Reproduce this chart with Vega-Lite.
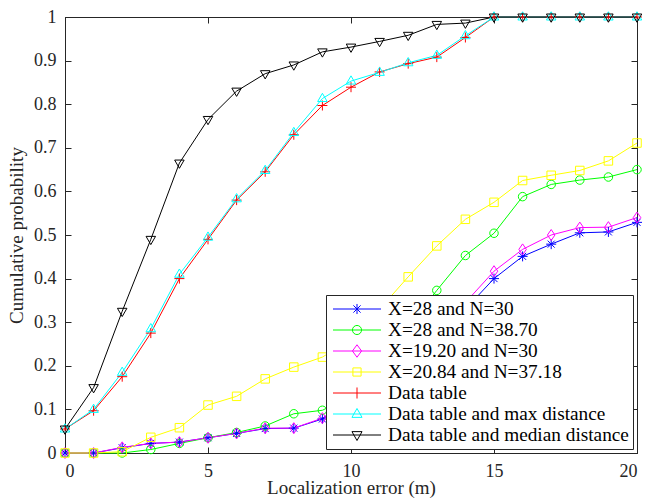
{
  "$schema": "https://vega.github.io/schema/vega-lite/v6.json",
  "width": 572,
  "height": 436,
  "autosize": "none",
  "padding": {"left": 65, "top": 17, "right": 13, "bottom": 49},
  "background": "white",
  "config": {
    "font": "Liberation Serif",
    "view": {"stroke": "#262626", "strokeWidth": 1},
    "axis": {
      "grid": false,
      "domainColor": "#262626",
      "tickColor": "#262626",
      "labelColor": "#262626",
      "titleColor": "#262626",
      "labelFont": "Liberation Serif",
      "titleFont": "Liberation Serif",
      "labelFontSize": 18,
      "titleFontSize": 19,
      "titleFontWeight": "normal",
      "tickSize": -6,
      "tickWidth": 1,
      "domainWidth": 1,
      "labelPadding": 15
    },
    "legend": {
      "orient": "bottom-right",
      "offset": 4,
      "strokeColor": "#262626",
      "fillColor": "white",
      "padding": 3.5,
      "symbolSize": 2304,
      "symbolStrokeWidth": 1,
      "symbolOpacity": 1,
      "labelFont": "Liberation Serif",
      "labelFontSize": 19.3,
      "labelColor": "black",
      "labelLimit": 400,
      "clipHeight": 21,
      "rowPadding": 0,
      "symbolOffset": 3,
      "labelOffset": 6.5,
      "cornerRadius": 0
    }
  },
  "data": {
    "values": [
      {"x":0,"y":0,"s":"X=28 and N=30"},{"x":1,"y":0,"s":"X=28 and N=30"},{"x":2,"y":0.012,"s":"X=28 and N=30"},{"x":3,"y":0.022,"s":"X=28 and N=30"},{"x":4,"y":0.025,"s":"X=28 and N=30"},{"x":5,"y":0.035,"s":"X=28 and N=30"},{"x":6,"y":0.045,"s":"X=28 and N=30"},{"x":7,"y":0.056,"s":"X=28 and N=30"},{"x":8,"y":0.057,"s":"X=28 and N=30"},{"x":9,"y":0.078,"s":"X=28 and N=30"},{"x":10,"y":0.11,"s":"X=28 and N=30"},{"x":11,"y":0.15,"s":"X=28 and N=30"},{"x":12,"y":0.21,"s":"X=28 and N=30"},{"x":13,"y":0.27,"s":"X=28 and N=30"},{"x":14,"y":0.33,"s":"X=28 and N=30"},{"x":15,"y":0.40,"s":"X=28 and N=30"},{"x":16,"y":0.451,"s":"X=28 and N=30"},{"x":17,"y":0.479,"s":"X=28 and N=30"},{"x":18,"y":0.505,"s":"X=28 and N=30"},{"x":19,"y":0.507,"s":"X=28 and N=30"},{"x":20,"y":0.529,"s":"X=28 and N=30"},
      {"x":0,"y":0,"s":"X=28 and N=38.70"},{"x":1,"y":0,"s":"X=28 and N=38.70"},{"x":2,"y":0,"s":"X=28 and N=38.70"},{"x":3,"y":0.008,"s":"X=28 and N=38.70"},{"x":4,"y":0.022,"s":"X=28 and N=38.70"},{"x":5,"y":0.035,"s":"X=28 and N=38.70"},{"x":6,"y":0.047,"s":"X=28 and N=38.70"},{"x":7,"y":0.062,"s":"X=28 and N=38.70"},{"x":8,"y":0.09,"s":"X=28 and N=38.70"},{"x":9,"y":0.098,"s":"X=28 and N=38.70"},{"x":10,"y":0.13,"s":"X=28 and N=38.70"},{"x":11,"y":0.2,"s":"X=28 and N=38.70"},{"x":12,"y":0.29,"s":"X=28 and N=38.70"},{"x":13,"y":0.373,"s":"X=28 and N=38.70"},{"x":14,"y":0.453,"s":"X=28 and N=38.70"},{"x":15,"y":0.504,"s":"X=28 and N=38.70"},{"x":16,"y":0.588,"s":"X=28 and N=38.70"},{"x":17,"y":0.616,"s":"X=28 and N=38.70"},{"x":18,"y":0.626,"s":"X=28 and N=38.70"},{"x":19,"y":0.633,"s":"X=28 and N=38.70"},{"x":20,"y":0.65,"s":"X=28 and N=38.70"},
      {"x":0,"y":0,"s":"X=19.20 and N=30"},{"x":1,"y":0,"s":"X=19.20 and N=30"},{"x":2,"y":0.013,"s":"X=19.20 and N=30"},{"x":3,"y":0.022,"s":"X=19.20 and N=30"},{"x":4,"y":0.025,"s":"X=19.20 and N=30"},{"x":5,"y":0.035,"s":"X=19.20 and N=30"},{"x":6,"y":0.045,"s":"X=19.20 and N=30"},{"x":7,"y":0.057,"s":"X=19.20 and N=30"},{"x":8,"y":0.057,"s":"X=19.20 and N=30"},{"x":9,"y":0.08,"s":"X=19.20 and N=30"},{"x":10,"y":0.115,"s":"X=19.20 and N=30"},{"x":11,"y":0.16,"s":"X=19.20 and N=30"},{"x":12,"y":0.22,"s":"X=19.20 and N=30"},{"x":13,"y":0.29,"s":"X=19.20 and N=30"},{"x":14,"y":0.345,"s":"X=19.20 and N=30"},{"x":15,"y":0.417,"s":"X=19.20 and N=30"},{"x":16,"y":0.467,"s":"X=19.20 and N=30"},{"x":17,"y":0.50,"s":"X=19.20 and N=30"},{"x":18,"y":0.517,"s":"X=19.20 and N=30"},{"x":19,"y":0.518,"s":"X=19.20 and N=30"},{"x":20,"y":0.54,"s":"X=19.20 and N=30"},
      {"x":0,"y":0,"s":"X=20.84 and N=37.18"},{"x":1,"y":0,"s":"X=20.84 and N=37.18"},{"x":2,"y":0.003,"s":"X=20.84 and N=37.18"},{"x":3,"y":0.036,"s":"X=20.84 and N=37.18"},{"x":4,"y":0.058,"s":"X=20.84 and N=37.18"},{"x":5,"y":0.11,"s":"X=20.84 and N=37.18"},{"x":6,"y":0.13,"s":"X=20.84 and N=37.18"},{"x":7,"y":0.17,"s":"X=20.84 and N=37.18"},{"x":8,"y":0.197,"s":"X=20.84 and N=37.18"},{"x":9,"y":0.22,"s":"X=20.84 and N=37.18"},{"x":10,"y":0.26,"s":"X=20.84 and N=37.18"},{"x":11,"y":0.33,"s":"X=20.84 and N=37.18"},{"x":12,"y":0.404,"s":"X=20.84 and N=37.18"},{"x":13,"y":0.475,"s":"X=20.84 and N=37.18"},{"x":14,"y":0.536,"s":"X=20.84 and N=37.18"},{"x":15,"y":0.575,"s":"X=20.84 and N=37.18"},{"x":16,"y":0.625,"s":"X=20.84 and N=37.18"},{"x":17,"y":0.637,"s":"X=20.84 and N=37.18"},{"x":18,"y":0.648,"s":"X=20.84 and N=37.18"},{"x":19,"y":0.67,"s":"X=20.84 and N=37.18"},{"x":20,"y":0.711,"s":"X=20.84 and N=37.18"},
      {"x":0,"y":0.055,"s":"Data table"},{"x":1,"y":0.097,"s":"Data table"},{"x":2,"y":0.175,"s":"Data table"},{"x":3,"y":0.275,"s":"Data table"},{"x":4,"y":0.40,"s":"Data table"},{"x":5,"y":0.49,"s":"Data table"},{"x":6,"y":0.58,"s":"Data table"},{"x":7,"y":0.645,"s":"Data table"},{"x":8,"y":0.73,"s":"Data table"},{"x":9,"y":0.797,"s":"Data table"},{"x":10,"y":0.839,"s":"Data table"},{"x":11,"y":0.874,"s":"Data table"},{"x":12,"y":0.893,"s":"Data table"},{"x":13,"y":0.908,"s":"Data table"},{"x":14,"y":0.953,"s":"Data table"},{"x":15,"y":1,"s":"Data table"},{"x":16,"y":1,"s":"Data table"},{"x":17,"y":1,"s":"Data table"},{"x":18,"y":1,"s":"Data table"},{"x":19,"y":1,"s":"Data table"},{"x":20,"y":1,"s":"Data table"},
      {"x":0,"y":0.055,"s":"Data table and max distance"},{"x":1,"y":0.10,"s":"Data table and max distance"},{"x":2,"y":0.185,"s":"Data table and max distance"},{"x":3,"y":0.285,"s":"Data table and max distance"},{"x":4,"y":0.41,"s":"Data table and max distance"},{"x":5,"y":0.495,"s":"Data table and max distance"},{"x":6,"y":0.583,"s":"Data table and max distance"},{"x":7,"y":0.648,"s":"Data table and max distance"},{"x":8,"y":0.735,"s":"Data table and max distance"},{"x":9,"y":0.813,"s":"Data table and max distance"},{"x":10,"y":0.853,"s":"Data table and max distance"},{"x":11,"y":0.873,"s":"Data table and max distance"},{"x":12,"y":0.895,"s":"Data table and max distance"},{"x":13,"y":0.912,"s":"Data table and max distance"},{"x":14,"y":0.957,"s":"Data table and max distance"},{"x":15,"y":1,"s":"Data table and max distance"},{"x":16,"y":1,"s":"Data table and max distance"},{"x":17,"y":1,"s":"Data table and max distance"},{"x":18,"y":1,"s":"Data table and max distance"},{"x":19,"y":1,"s":"Data table and max distance"},{"x":20,"y":1,"s":"Data table and max distance"},
      {"x":0,"y":0.055,"s":"Data table and median distance"},{"x":1,"y":0.15,"s":"Data table and median distance"},{"x":2,"y":0.325,"s":"Data table and median distance"},{"x":3,"y":0.49,"s":"Data table and median distance"},{"x":4,"y":0.665,"s":"Data table and median distance"},{"x":5,"y":0.765,"s":"Data table and median distance"},{"x":6,"y":0.83,"s":"Data table and median distance"},{"x":7,"y":0.87,"s":"Data table and median distance"},{"x":8,"y":0.89,"s":"Data table and median distance"},{"x":9,"y":0.92,"s":"Data table and median distance"},{"x":10,"y":0.931,"s":"Data table and median distance"},{"x":11,"y":0.944,"s":"Data table and median distance"},{"x":12,"y":0.958,"s":"Data table and median distance"},{"x":13,"y":0.983,"s":"Data table and median distance"},{"x":14,"y":0.986,"s":"Data table and median distance"},{"x":15,"y":1,"s":"Data table and median distance"},{"x":16,"y":1,"s":"Data table and median distance"},{"x":17,"y":1,"s":"Data table and median distance"},{"x":18,"y":1,"s":"Data table and median distance"},{"x":19,"y":1,"s":"Data table and median distance"},{"x":20,"y":1,"s":"Data table and median distance"}
    ]
  },
  "layer": [
    {
      "mark": {"type": "line", "strokeWidth": 1},
      "encoding": {
        "x": {"field": "x", "type": "quantitative", "scale": {"domain": [0, 20], "nice": false},
              "axis": {"orient": "bottom", "values": [0, 5, 10, 15, 20], "title": "Localization error (m)", "titleBaseline": "alphabetic", "titleY": 40}},
        "y": {"field": "y", "type": "quantitative", "scale": {"domain": [0, 1], "nice": false},
              "axis": {"orient": "left", "values": [0, 0.1, 0.2, 0.3, 0.4, 0.5, 0.6, 0.7, 0.8, 0.9, 1], "format": "~g", "title": "Cumulative probability", "titleBaseline": "alphabetic", "titleAngle": -90, "titleAlign": "center", "titleX": -42.5, "titleY": 218}},
        "color": {"field": "s", "type": "nominal",
                  "scale": {"domain": ["X=28 and N=30", "X=28 and N=38.70", "X=19.20 and N=30", "X=20.84 and N=37.18", "Data table", "Data table and max distance", "Data table and median distance"],
                            "range": ["#0000FF", "#00FF00", "#FF00FF", "#FFFF00", "#FF0000", "#00FFFF", "#000000"]},
                  "legend": null}
      }
    },
    {
      "mark": {"type": "point", "filled": false, "size": 100, "strokeWidth": 1, "opacity": 1},
      "encoding": {
        "x": {"field": "x", "type": "quantitative", "axis": null},
        "y": {"field": "y", "type": "quantitative", "axis": null},
        "color": {"field": "s", "type": "nominal",
                  "scale": {"domain": ["X=28 and N=30", "X=28 and N=38.70", "X=19.20 and N=30", "X=20.84 and N=37.18", "Data table", "Data table and max distance", "Data table and median distance"],
                            "range": ["#0000FF", "#00FF00", "#FF00FF", "#FFFF00", "#FF0000", "#00FFFF", "#000000"]},
                  "legend": null},
        "shape": {"field": "s", "type": "nominal",
                  "scale": {"domain": ["X=28 and N=30", "X=28 and N=38.70", "X=19.20 and N=30", "X=20.84 and N=37.18", "Data table", "Data table and max distance", "Data table and median distance"],
                            "range": ["M-1,0H1M0,-1V1M-0.7,-0.7L0.7,0.7M-0.7,0.7L0.7,-0.7", "M0.85,0A0.85,0.85 0 1,1 -0.85,0A0.85,0.85 0 1,1 0.85,0", "M0,-1.1L0.75,0L0,1.1L-0.75,0Z", "M-0.85,-0.85H0.85V0.85H-0.85Z", "M-1,0H1M0,-1V1", "M0,-1.05L0.95,0.6L-0.95,0.6Z", "M0,1.05L0.95,-0.6L-0.95,-0.6Z"]},
                  "legend": null}
      }
    },
    {
      "mark": {"type": "point", "filled": false, "size": 100, "strokeWidth": 1, "opacity": 0},
      "encoding": {
        "x": {"field": "x", "type": "quantitative",
              "axis": {"orient": "top", "values": [0, 5, 10, 15, 20], "labels": false, "title": null}},
        "y": {"field": "y", "type": "quantitative",
              "axis": {"orient": "right", "values": [0, 0.1, 0.2, 0.3, 0.4, 0.5, 0.6, 0.7, 0.8, 0.9, 1], "labels": false, "title": null}},
        "color": {"field": "s", "type": "nominal",
                  "scale": {"domain": ["X=28 and N=30", "X=28 and N=38.70", "X=19.20 and N=30", "X=20.84 and N=37.18", "Data table", "Data table and max distance", "Data table and median distance"],
                            "range": ["#0000FF", "#00FF00", "#FF00FF", "#FFFF00", "#FF0000", "#00FFFF", "#000000"]},
                  "legend": {"title": null}},
        "shape": {"field": "s", "type": "nominal",
                  "scale": {"domain": ["X=28 and N=30", "X=28 and N=38.70", "X=19.20 and N=30", "X=20.84 and N=37.18", "Data table", "Data table and max distance", "Data table and median distance"],
                            "range": ["M-1,0H1M0,-0.21V0.21M-0.15,-0.15L0.15,0.15M-0.15,0.15L0.15,-0.15", "M-1,0H1M0.19,0A0.19,0.19 0 1,1 -0.19,0A0.19,0.19 0 1,1 0.19,0", "M-1,0H1M0,-0.26L0.19,0L0,0.26L-0.19,0Z", "M-1,0H1M-0.17,-0.17H0.17V0.17H-0.17Z", "M-1,0H1M0,-0.23V0.23", "M-1,0H1M0,-0.23L0.21,0.14L-0.21,0.14Z", "M-1,0H1M0,0.23L0.21,-0.14L-0.21,-0.14Z"]},
                  "legend": {"title": null}}
      }
    }
  ],
  "resolve": {"axis": {"x": "independent", "y": "independent"}, "scale": {"color": "independent", "shape": "independent"}}
}
